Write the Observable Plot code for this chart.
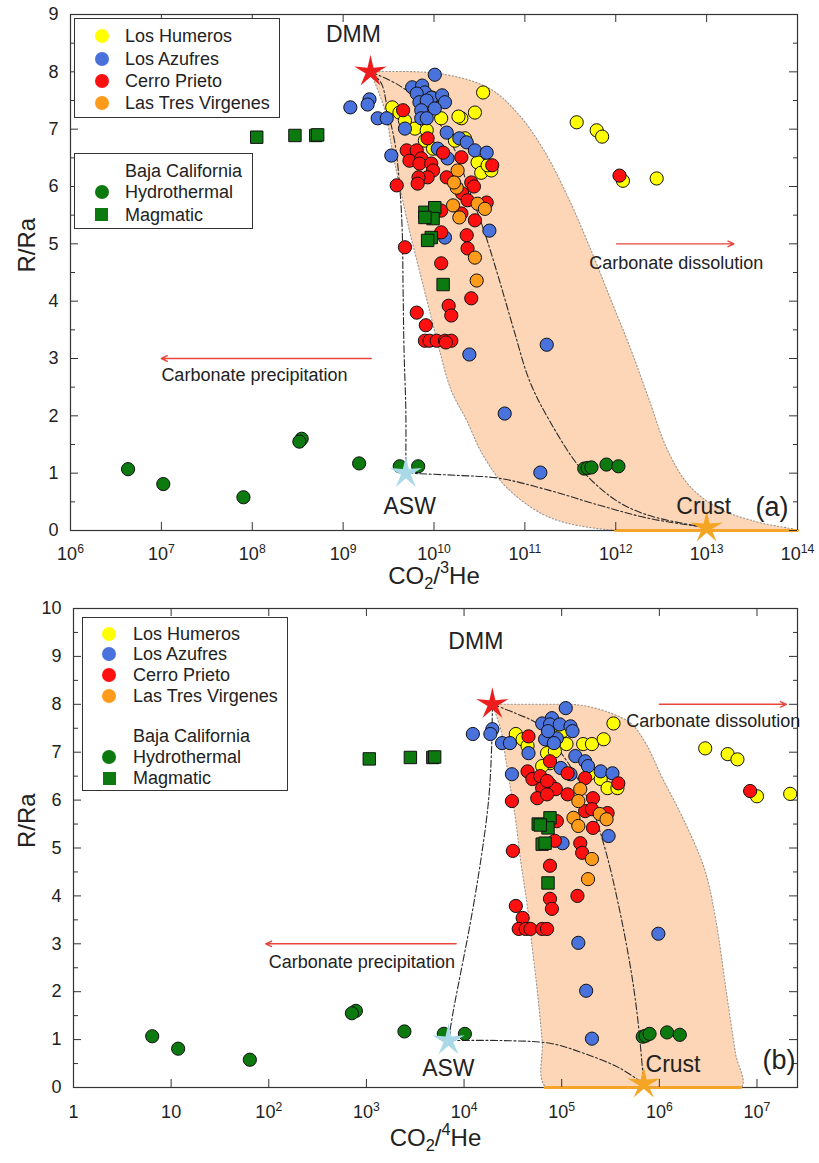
<!DOCTYPE html>
<html><head><meta charset="utf-8">
<script src="https://cdn.jsdelivr.net/npm/d3@7"></script>
<script src="https://cdn.jsdelivr.net/npm/@observablehq/plot@0.6"></script>
<style>
html,body{margin:0;padding:0;background:#fff;}
#wrap{position:relative;width:819px;height:1163px;overflow:hidden;font-family:"Liberation Sans",Arial,Helvetica,sans-serif;}
#wrap svg{position:absolute;left:0;overflow:visible;}
.legend{position:absolute;box-sizing:border-box;border:1.5px solid #333;background:#fff;}
.lrow{position:absolute;font-size:18px;line-height:20px;height:20px;color:#222;white-space:nowrap;}
.mk{position:absolute;}
</style></head><body><div id="wrap"></div>
<script>
const W = 819;
// ---------------- tick values / labels ----------------
const xTicksA = [1e6,1e7,1e8,1e9,1e10,1e11,1e12,1e13,1e14];
const xLabelsA = ["10^6","10^7","10^8","10^9","10^10","10^11","10^12","10^13","10^14"];
const yTicksA = [0,1,2,3,4,5,6,7,8,9];
const yMinorA = [0.5,1.5,2.5,3.5,4.5,5.5,6.5,7.5,8.5];
const xTicksB = [1,10,100,1e3,1e4,1e5,1e6,1e7];
const xLabelsB = ["1","10","10^2","10^3","10^4","10^5","10^6","10^7"];
const yTicksB = [0,1,2,3,4,5,6,7,8,9,10];
const yMinorB = [0.5,1.5,2.5,3.5,4.5,5.5,6.5,7.5,8.5,9.5];
const seriesNames = ["Los Humeros","Los Azufres","Cerro Prieto","Las Tres Virgenes"];
const bajaNames = ["Baja California","Hydrothermal","Magmatic"];
const endNames = ["DMM","ASW","Crust"];

// ---------------- panel (a): CO2/3He vs R/Ra ----------------
const humerosA = [[3.47e10,7.64],[3.47e9,7.38],[4.17e9,7.29],[4.79e9,7.15],[6.17e9,7.01],[8.32e9,6.98],[9.55e9,7.55],[1.2e10,7.19],[2.0e10,7.19],[1.86e10,7.22],[2.82e10,7.29],[1.7e10,6.80],[2.19e10,6.84],[7.94e9,6.80],[9.77e9,6.66],[3.02e10,6.42],[3.31e10,6.24],[4.27e10,6.28],[3.89e10,6.37],[3.72e11,7.12],[6.17e11,6.98],[7.08e11,6.87],[1.2e12,6.10],[2.82e12,6.14]];
const azufresA = [[1.02e10,7.95],[1.2e9,7.38],[1.95e9,7.52],[1.86e9,7.43],[2.4e9,7.19],[3.02e9,7.19],[5.75e9,7.73],[7.41e9,7.76],[7.94e9,7.64],[6.46e9,7.62],[9.33e9,7.55],[1.23e10,7.59],[1.32e10,7.47],[6.92e9,7.47],[8.32e9,7.50],[1.02e10,7.36],[7.24e9,7.33],[7.24e9,7.19],[8.32e9,7.19],[4.79e9,7.01],[1.38e10,6.94],[1.9e10,6.84],[2.29e10,6.77],[2.82e10,6.63],[3.8e10,6.59],[1.1e10,6.66],[1.41e10,6.49],[3.39e9,6.54],[4.07e10,5.23],[1.32e10,5.11],[2.45e10,3.07],[6.0e10,2.04],[1.74e11,3.24],[1.48e11,1.01]];
const prietoA = [[4.57e9,7.33],[8.51e9,6.84],[5.01e9,6.63],[6.46e9,6.63],[5.37e9,6.45],[7.24e9,6.49],[6.92e9,6.40],[9.33e9,6.40],[9.77e9,6.28],[8.51e9,6.16],[6.76e9,6.16],[1.26e10,6.59],[2.0e10,6.51],[1.38e10,6.16],[4.37e10,6.37],[3.89e9,6.02],[2.57e10,6.07],[6.61e9,6.05],[2.04e10,5.88],[2.75e10,6.0],[2.34e10,5.76],[3.8e10,5.72],[1.2e10,5.58],[2.0e10,5.53],[2.82e10,5.41],[1.2e10,5.20],[2.29e10,5.15],[2.34e10,4.92],[1.2e10,4.66],[2.57e10,4.05],[1.45e10,3.92],[1.55e10,3.75],[6.46e9,3.80],[8.13e9,3.58],[7.94e9,3.31],[8.91e9,3.31],[1.07e10,3.31],[1.32e10,3.31],[1.55e10,3.31],[1.35e10,3.28],[4.79e9,4.94],[1.1e12,6.19]];
const virgenesA = [[1.82e10,6.28],[1.78e10,5.98],[1.66e10,6.07],[3.02e10,5.70],[3.63e10,5.61],[1.62e10,5.67],[1.9e10,5.46],[2.82e10,4.76],[2.95e10,4.36]];
const hydroA = [[4.3e6,1.07],[1.05e7,0.81],[8.0e7,0.58],[3.5e8,1.60],[3.3e8,1.55],[1.5e9,1.17],[4.2e9,1.12],[6.7e9,1.12],[4.5e11,1.08],[4.9e11,1.09],[5.4e11,1.10],[7.9e11,1.15],[1.07e12,1.12]];
const magmaA = [[1.12e8,6.86],[2.95e8,6.89],[5.0e8,6.89],[5.25e8,6.90],[7.94e9,5.55],[1.02e10,5.63],[9.77e9,5.44],[7.94e9,5.46],[9.33e9,5.11],[8.51e9,5.06],[1.26e10,4.29]];
const endA = [[2.0e9,8.0],[4.9e9,1.0],[1.0e13,0.05]];
const endLabelPosA = [[1.3e9,8.65],[5.4e9,0.42],[9.3e12,0.42]];
const shadeLeftA = [[2.0e9,8.0],[2.88e9,7.33],[3.47e9,6.63],[4.17e9,6.02],[5.37e9,5.23],[6.92e9,4.53],[8.91e9,3.84],[1.15e10,3.14],[1.55e10,2.44],[2.29e10,1.92],[3.39e10,1.34],[6.31e10,0.75],[1.86e11,0.23],[1.0e12,0],[1.0e13,0]];
const shadeRightA = [[1.15e10,7.97],[4.07e10,7.71],[8.71e10,7.24],[1.62e11,6.63],[3.09e11,5.76],[5.37e11,4.88],[8.91e11,4.01],[1.48e12,3.14],[2.34e12,2.27],[3.72e12,1.40],[6.46e12,0.78],[1.38e13,0.38],[3.8e13,0.14],[1.0e14,0]];
const crustBaseA = [[1.0e12,0],[1.0e14,0]];
const mixDmmAswA = [[2.0e9,8.0],[2.63e9,7.80],[3.09e9,7.33],[3.72e9,6.75],[4.17e9,6.05],[4.47e9,5.23],[4.57e9,4.19],[4.68e9,3.14],[4.9e9,2.09],[4.9e9,1.22],[4.9e9,1.0]];
const mixDmmCrustA = [[2.0e9,8.0],[4.17e9,7.76],[8.91e9,7.33],[1.7e10,6.63],[2.45e10,5.93],[3.55e10,5.23],[5.25e10,4.36],[7.59e10,3.49],[1.12e11,2.62],[1.86e11,1.92],[4.27e11,1.05],[1.02e12,0.52],[2.34e12,0.26],[1.0e13,0.05]];
const mixAswCrustA = [[4.9e9,1.0],[6.92e9,0.99],[1.9e10,0.96],[5.25e10,0.91],[1.86e11,0.70],[6.61e11,0.44],[2.34e12,0.21],[1.0e13,0.05]];
const arrowsA = [[2.04e9,3.0,1.0e7,3.0],[1.02e12,5.0,2.0e13,5.0]];
const arrowTextsA = [[1.0e7,2.70,"Carbonate precipitation"],[5.1e11,4.67,"Carbonate dissolution"]];

// ---------------- panel (b): CO2/4He vs R/Ra ----------------
const humerosB = [[3.39e5,7.60],[3.39e4,7.38],[3.98e4,7.27],[4.47e4,7.13],[7.08e4,6.98],[8.51e4,7.02],[1.12e5,7.17],[1.02e5,7.44],[1.66e5,7.17],[2.04e5,7.17],[2.69e5,7.27],[7.59e4,6.77],[6.31e4,6.71],[1.95e5,6.56],[2.51e5,6.44],[2.95e5,6.25],[3.72e5,6.25],[2.95e6,7.08],[5.01e6,6.96],[6.31e6,6.85],[1.0e7,6.08],[2.19e7,6.13]];
const azufresB = [[1.23e4,7.38],[1.95e4,7.48],[1.86e4,7.38],[2.45e4,7.19],[2.95e4,7.19],[1.1e5,7.92],[6.31e4,7.60],[7.94e4,7.71],[7.59e4,7.58],[9.55e4,7.58],[1.23e5,7.54],[1.29e5,7.44],[6.76e4,7.27],[8.91e4,7.29],[8.32e4,7.19],[7.24e4,7.44],[4.57e4,6.98],[1.38e5,6.92],[1.74e5,6.81],[1.86e5,6.71],[2.51e5,6.60],[3.31e5,6.56],[9.77e4,6.67],[1.23e5,6.54],[3.09e4,6.54],[3.02e5,5.25],[1.02e5,5.10],[1.48e5,3.02],[1.78e5,2.02],[2.04e5,1.02],[9.77e5,3.21]];
const prietoB = [[4.57e4,7.33],[7.59e4,6.81],[4.47e4,6.60],[5.01e4,6.44],[6.03e4,6.50],[7.59e4,6.33],[8.71e4,6.23],[6.31e4,6.25],[7.08e4,6.40],[1.15e5,6.56],[1.74e5,6.46],[1.15e5,6.12],[3.09e4,5.98],[5.62e4,6.04],[7.08e4,6.12],[3.8e5,6.35],[1.74e5,5.77],[2.09e5,6.04],[2.04e5,5.81],[2.95e5,5.73],[2.09e5,5.42],[1.55e5,5.10],[1.62e5,4.90],[8.91e4,5.56],[8.51e4,5.15],[3.16e4,4.94],[7.59e4,4.63],[1.45e5,4.00],[7.59e4,3.94],[7.94e4,3.73],[3.39e4,3.79],[3.98e4,3.54],[3.63e4,3.31],[4.27e4,3.31],[4.79e4,3.31],[6.31e4,3.31],[7.08e4,3.31],[8.51e6,6.19]];
const virgenesB = [[1.55e5,6.23],[1.48e5,5.98],[1.32e5,5.63],[1.48e5,5.46],[2.45e5,5.71],[2.88e5,5.60],[2.04e5,4.77],[1.86e5,4.35]];
const hydroB = [[6.4,1.07],[11.8,0.81],[64,0.58],[780,1.60],[710,1.55],[2.45e3,1.17],[6.2e3,1.12],[1.02e4,1.12],[6.76e5,1.06],[7.24e5,1.08],[7.94e5,1.12],[1.2e6,1.15],[1.62e6,1.10]];
const magmaB = [[1.07e3,6.86],[2.82e3,6.89],[4.79e3,6.89],[5.0e3,6.90],[5.75e4,5.50],[7.59e4,5.63],[7.24e4,5.42],[6.31e4,5.08],[6.76e4,5.10],[7.24e4,4.27],[6.03e4,5.48]];
const endB = [[1.95e4,8.0],[6.92e3,0.98],[6.92e5,0.08]];
const endLabelPosB = [[1.32e4,9.31],[6.9e3,0.40],[1.38e6,0.48]];
const shadeLeftB = [[1.95e4,8.0],[2.4e4,7.44],[2.69e4,6.81],[3.02e4,6.19],[3.39e4,5.56],[3.8e4,4.73],[4.37e4,3.90],[4.9e4,3.06],[5.62e4,2.02],[6.31e4,0.98],[6.92e4,0],[6.9e5,0]];
const shadeRightB = [[6.17e4,8.0],[1.58e5,7.98],[3.24e5,7.81],[5.13e5,7.60],[7.24e5,7.19],[1.05e6,6.50],[1.66e6,5.71],[2.88e6,4.58],[3.8e6,3.48],[4.79e6,2.08],[6.03e6,0.71],[6.92e6,0]];
const crustBaseB = [[6.8e4,0],[6.8e6,0]];
const mixDmmAswB = [[1.95e4,8.0],[1.91e4,7.02],[1.78e4,5.98],[1.48e4,4.73],[1.17e4,3.48],[9.33e3,2.44],[7.76e3,1.60],[6.92e3,0.98]];
const mixDmmCrustB = [[1.95e4,8.0],[3.39e4,7.81],[5.75e4,7.58],[9.12e4,7.08],[1.41e5,6.50],[2.09e5,5.77],[2.82e5,4.94],[3.8e5,3.83],[5.13e5,2.44],[6.03e5,1.40],[6.92e5,0.08]];
const mixAswCrustB = [[6.92e3,0.98],[2.4e4,0.98],[7.76e4,0.92],[1.7e5,0.71],[3.8e5,0.42],[6.92e5,0.08]];
const arrowsB = [[8.3e3,3.0,93,3.0],[1.0e6,8.0,2.0e7,8.0]];
const arrowTextsB = [[100,2.62,"Carbonate precipitation"],[4.57e5,7.65,"Carbonate dissolution"]];

// ---------------- styling ----------------
const COL = {humeros:"#ffff00", azufres:"#4a72dc", prieto:"#ff1010", virgenes:"#ff9b1a", baja:"#0d7a10"};
const endCols = ["#ee1d1d","#a9d8e6","#f5a524"];
const P = arr => arr.map(([x,y]) => ({x,y}));
function starSym(ratio){return {draw(ctx,size){const R=Math.sqrt(size/Math.PI),r=R*ratio;for(let i=0;i<10;i++){const a=-Math.PI/2+i*Math.PI/5,rr=i%2?r:R,x=rr*Math.cos(a),y=rr*Math.sin(a);if(i)ctx.lineTo(x,y);else ctx.moveTo(x,y);}ctx.closePath();}};}
const STAR = starSym(0.3);

function makePanel(c){
  const fh=c.h-c.mt-c.mb, fw=W-c.ml-c.mr;
  const dot=(arr,fill)=>Plot.dot(P(arr),{x:"x",y:"y",r:6.6,fill,stroke:"#111",strokeWidth:1});
  const shadeData=P([...c.shadeLeft,...c.shadeRight.slice().reverse(),c.shadeLeft[0]]);
  const marks=[
    Plot.line(shadeData,{x:"x",y:"y",fill:"#fcd6b6",stroke:"#9c958f",strokeWidth:1.1,strokeDasharray:"1.3,2.2",curve:"catmull-rom",clip:"frame"}),
    Plot.frame({stroke:"#333",strokeWidth:1.2}),
    ...c.curves.map(cv=>Plot.line(P(cv),{x:"x",y:"y",stroke:"#2a2a2a",strokeWidth:1.1,strokeDasharray:"7,2.5,2,2.5",curve:"catmull-rom"})),
    Plot.line(P(c.crustBase),{x:"x",y:"y",stroke:"#f4a42a",strokeWidth:3.2}),
    Plot.tickX(c.xTicks,{x:d=>d,insetTop:fh-8,stroke:"#333"}),
    Plot.tickX(c.xTicks,{x:d=>d,insetBottom:fh-8,stroke:"#333"}),
    Plot.tickY(c.yTicks,{y:d=>d,insetRight:fw-8,stroke:"#333"}),
    Plot.tickY(c.yMinor,{y:d=>d,insetRight:fw-5,stroke:"#333"}),
    Plot.tickY(c.yTicks,{y:d=>d,insetLeft:fw-8,stroke:"#333"}),
    Plot.tickY(c.yMinor,{y:d=>d,insetLeft:fw-4,stroke:"#333"}),
    Plot.axisX(c.xTicks,{tickSize:0,tickPadding:c.padX,tickFormat:d=>c.xLabels[c.xTicks.indexOf(d)],fontSize:18,label:null}),
    Plot.axisY(c.yTicks,{tickSize:0,tickPadding:12,tickFormat:d=>String(d),fontSize:18,label:null}),
    Plot.text(["R/Ra"],{frameAnchor:"left",dx:c.yTitleDx,rotate:-90,fontSize:24}),
    Plot.text([c.xTitle],{frameAnchor:"bottom",dy:c.xTitleDy,fontSize:24}),
    Plot.arrow(c.arrows,{x1:d=>d[0],y1:d=>d[1],x2:d=>d[2],y2:d=>d[3],stroke:"#e8453c",strokeWidth:1.4,headLength:7,headAngle:50}),
    Plot.text(c.arrowTexts,{x:d=>d[0],y:d=>d[1],text:d=>d[2],textAnchor:"start",fontSize:18,fill:"#222"}),
    dot(c.humeros,COL.humeros), dot(c.azufres,COL.azufres), dot(c.prieto,COL.prieto), dot(c.virgenes,COL.virgenes), dot(c.hydro,COL.baja),
    Plot.dot(P(c.mag),{x:"x",y:"y",symbol:"square",r:7,fill:COL.baja,stroke:"#111",strokeWidth:1}),
    ...c.ends.map((e,i)=>Plot.dot([e],{x:d=>d[0],y:d=>d[1],symbol:STAR,r:17,fill:endCols[i]})),
    Plot.text(c.endLabelPos,{x:d=>d[0],y:d=>d[1],text:(d,i)=>endNames[i],fontSize:23,fill:"#222"}),
    Plot.text([c.tag],{frameAnchor:"bottom-right",textAnchor:"end",dx:c.tagDx,dy:c.tagDy,fontSize:27})
  ];
  const svg=Plot.plot({width:W,height:c.h,marginTop:c.mt,marginBottom:c.mb,marginLeft:c.ml,marginRight:c.mr,
    x:{type:"log",domain:c.xDomain}, y:{domain:c.yDomain},
    style:{fontFamily:'"Liberation Sans",Arial,sans-serif',fontSize:"18px",color:"#222",background:"transparent",overflow:"visible"},
    marks});
  svg.style.position="absolute"; svg.style.top=c.top+"px"; svg.style.left="0px";
  return svg;
}

function richText(svg){
  svg.querySelectorAll("text").forEach(t=>{
    const s=t.textContent;
    if(!/[\^_]/.test(s)) return;
    const fs=parseFloat(getComputedStyle(t).fontSize)||18;
    const parts=[]; const re=/\^(\d+)|_(\d+)/g; let m,last=0;
    while((m=re.exec(s))){ if(m.index>last) parts.push({t:s.slice(last,m.index),k:0}); parts.push(m[1]!==undefined?{t:m[1],k:1}:{t:m[2],k:-1}); last=re.lastIndex; }
    if(last<s.length) parts.push({t:s.slice(last),k:0});
    while(t.firstChild) t.removeChild(t.firstChild);
    let cur=0;
    for(const p of parts){
      const ts=document.createElementNS("http://www.w3.org/2000/svg","tspan");
      ts.textContent=p.t;
      const target=p.k===1?-0.42*fs:p.k===-1?0.24*fs:0;
      if(p.k!==0) ts.setAttribute("font-size",(0.68*fs).toFixed(1));
      if(target!==cur) ts.setAttribute("dy",(target-cur).toFixed(2));
      cur=target;
      t.appendChild(ts);
    }
  });
}

function legend(parent, box, rows){
  const d=document.createElement("div"); d.className="legend";
  Object.assign(d.style,{left:box[0]+"px",top:box[1]+"px",width:(box[2]-box[0])+"px",height:(box[3]-box[1])+"px"});
  rows.forEach(r=>{
    if(r.color){
      const m=document.createElement("div"); m.className="mk";
      const s=r.shape==="square"?13:14;
      Object.assign(m.style,{left:(r.mx-s/2)+"px",top:(r.cy-s/2)+"px",width:s+"px",height:s+"px",background:r.color,borderRadius:r.shape==="square"?"0":"50%"});
      d.appendChild(m);
    }
    const t=document.createElement("div"); t.className="lrow";
    Object.assign(t.style,{left:r.tx+"px",top:(r.cy-10)+"px"}); t.textContent=r.label;
    d.appendChild(t);
  });
  parent.appendChild(d);
}

const wrap=document.getElementById("wrap");
const svgA=makePanel({top:0,h:600,mt:14,mb:70,ml:70,mr:22,xDomain:[1e6,1e14],yDomain:[0,9],
  xTicks:xTicksA,xLabels:xLabelsA,yTicks:yTicksA,yMinor:yMinorA,padX:17,yTitleDx:-43,xTitleDy:53,xTitle:"CO_2/^3He",tag:"(a)",tagDx:-9,tagDy:-15,
  humeros:humerosA,azufres:azufresA,prieto:prietoA,virgenes:virgenesA,hydro:hydroA,mag:magmaA,
  ends:endA,endLabelPos:endLabelPosA,shadeLeft:shadeLeftA,shadeRight:shadeRightA,crustBase:crustBaseA,
  curves:[mixDmmAswA,mixDmmCrustA,mixAswCrustA],arrows:arrowsA,arrowTexts:arrowTextsA});
const svgB=makePanel({top:600,h:563,mt:8,mb:76,ml:73,mr:22,xDomain:[1,2.6e7],yDomain:[0,10],
  xTicks:xTicksB,xLabels:xLabelsB,yTicks:yTicksB,yMinor:yMinorB,padX:18,yTitleDx:-46,xTitleDy:58,xTitle:"CO_2/^4He",tag:"(b)",tagDx:-2,tagDy:-19,
  humeros:humerosB,azufres:azufresB,prieto:prietoB,virgenes:virgenesB,hydro:hydroB,mag:magmaB,
  ends:endB,endLabelPos:endLabelPosB,shadeLeft:shadeLeftB,shadeRight:shadeRightB,crustBase:crustBaseB,
  curves:[mixDmmAswB,mixDmmCrustB,mixAswCrustB],arrows:arrowsB,arrowTexts:arrowTextsB});
wrap.appendChild(svgA); wrap.appendChild(svgB);
richText(svgA); richText(svgB);

const sc=[COL.humeros,COL.azufres,COL.prieto,COL.virgenes];
legend(wrap,[74,18,280,118],seriesNames.map((n,i)=>({label:n,color:sc[i],shape:"circle",cy:[17,39.5,62,83.5][i],mx:26.5,tx:50})));
legend(wrap,[74,153,253,229],bajaNames.map((n,i)=>({label:n,color:i?COL.baja:null,shape:i===2?"square":"circle",cy:[17,38,60.5][i],mx:26.5,tx:50})));
legend(wrap,[82,617,288,791],[...seriesNames,...bajaNames].map((n,i)=>({label:n,color:[...sc,null,COL.baja,COL.baja][i],shape:i===6?"square":"circle",cy:[16,36,57,78,118,139,160][i],mx:26,tx:50})));
</script></body></html>
